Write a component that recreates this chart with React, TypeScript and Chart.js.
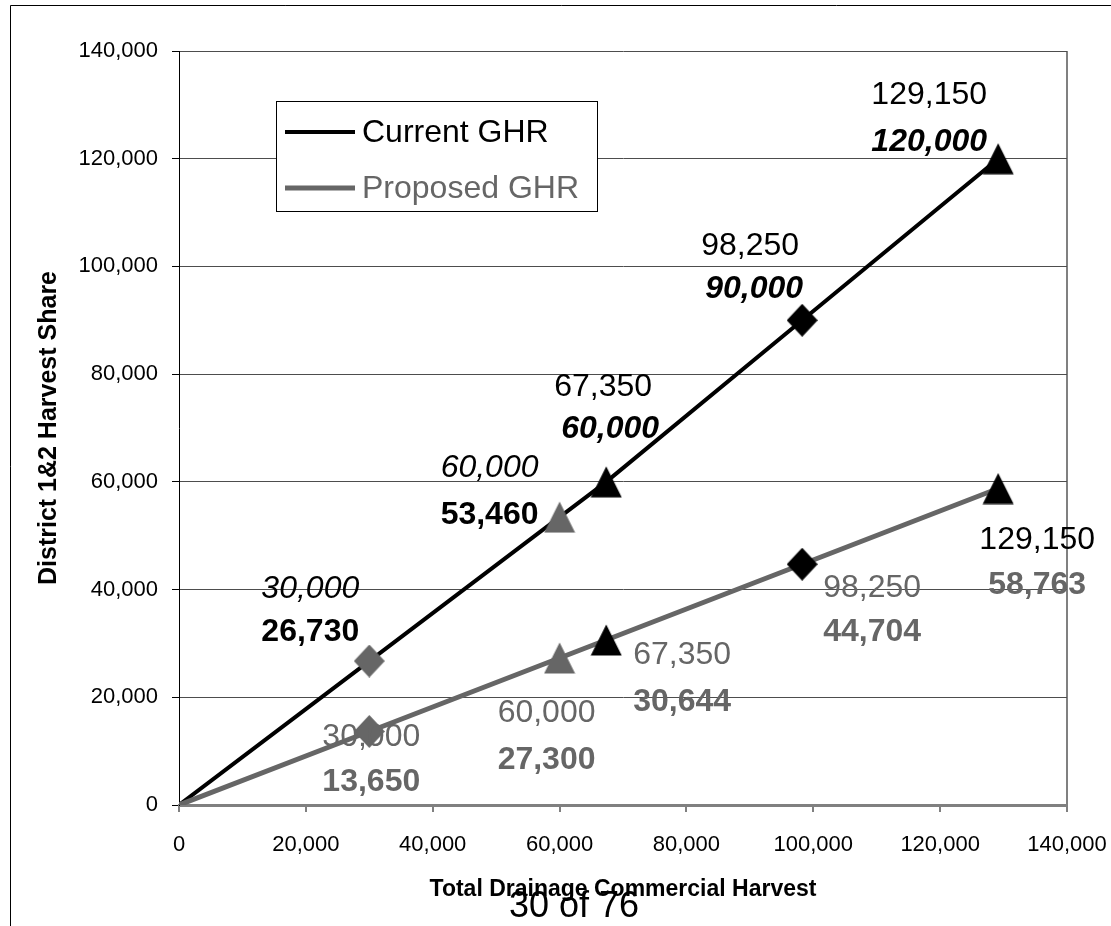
import React, { useEffect, useRef } from 'react';
import { Chart, registerables } from 'chart.js';

Chart.register(...registerables);

// ---------- data ----------
const harvestX = [0, 30000, 60000, 67350, 98250, 129150];
const currentGHR = [0, 26730, 53460, 60000, 90000, 120000];
const proposedGHR = [0, 13650, 27300, 30644, 44704, 58763];
const seriesNames = ['Current GHR', 'Proposed GHR'];
const markerKinds = ['none', 'diamond', 'triangle', 'triangle', 'diamond', 'triangle'];
const markerTones = ['none', 'gray', 'gray', 'black', 'black', 'black'];
const axisMin = 0;
const axisMax = 140000;
const axisStep = 20000;
const xTitle = 'Total Drainage Commercial Harvest';
const yTitle = 'District 1&2 Harvest Share';
const pageNote = '30 of 76';

// ---------- styles ----------
const BLACK = '#000000';
const GRAY = '#666666';
const FAMILY = "'Liberation Sans', Arial, sans-serif";

type LabelStyle = { font: string; color: string; dx: number; dy: number };
const LBL = 32;
const f = (style: string) => `${style} ${LBL}px ${FAMILY}`;

// per series, per point: [top label (x value), bottom label (y value)]
const labelStyles: (LabelStyle[] | null)[][] = [
  [
    null,
    [
      { font: f('italic'), color: BLACK, dx: -59, dy: -72 },
      { font: f('bold'), color: BLACK, dx: -59, dy: -29 },
    ],
    [
      { font: f('italic'), color: BLACK, dx: -70, dy: -49 },
      { font: f('bold'), color: BLACK, dx: -70, dy: -2 },
    ],
    [
      { font: f('normal'), color: BLACK, dx: -3, dy: -95 },
      { font: f('italic bold'), color: BLACK, dx: 4, dy: -53 },
    ],
    [
      { font: f('normal'), color: BLACK, dx: -52, dy: -74 },
      { font: f('italic bold'), color: BLACK, dx: -48, dy: -31 },
    ],
    [
      { font: f('normal'), color: BLACK, dx: -69, dy: -64 },
      { font: f('italic bold'), color: BLACK, dx: -69, dy: -17 },
    ],
  ],
  [
    null,
    [
      { font: f('normal'), color: GRAY, dx: 2, dy: 6 },
      { font: f('bold'), color: GRAY, dx: 2, dy: 51 },
    ],
    [
      { font: f('normal'), color: GRAY, dx: -13, dy: 55 },
      { font: f('bold'), color: GRAY, dx: -13, dy: 102 },
    ],
    [
      { font: f('normal'), color: GRAY, dx: 76, dy: 15 },
      { font: f('bold'), color: GRAY, dx: 76, dy: 62 },
    ],
    [
      { font: f('normal'), color: GRAY, dx: 70, dy: 24 },
      { font: f('bold'), color: GRAY, dx: 70, dy: 68 },
    ],
    [
      { font: f('normal'), color: BLACK, dx: 39, dy: 52 },
      { font: f('bold'), color: GRAY, dx: 39, dy: 97 },
    ],
  ],
];

const fmt = (n: number) => Math.round(n).toLocaleString('en-US');

function makeMarker(kind: string, color: string): HTMLCanvasElement {
  const c = document.createElement('canvas');
  const ctx = c.getContext('2d')!;
  if (kind === 'triangle') {
    c.width = 32;
    c.height = 32;
    ctx.fillStyle = color;
    ctx.beginPath();
    ctx.moveTo(16, 0.5);
    ctx.lineTo(31.5, 31.5);
    ctx.lineTo(0.5, 31.5);
    ctx.closePath();
    ctx.fill();
  } else {
    c.width = 31;
    c.height = 33;
    ctx.fillStyle = color;
    ctx.beginPath();
    ctx.moveTo(15.5, 0);
    ctx.lineTo(31, 16.5);
    ctx.lineTo(15.5, 33);
    ctx.lineTo(0, 16.5);
    ctx.closePath();
    ctx.fill();
  }
  return c;
}

const pointLabelsPlugin = {
  id: 'pointLabels',
  afterDatasetsDraw(chart: any) {
    const ctx = chart.ctx;
    ctx.save();
    ctx.textAlign = 'center';
    ctx.textBaseline = 'middle';
    chart.data.datasets.forEach((ds: any, di: number) => {
      const meta = chart.getDatasetMeta(di);
      meta.data.forEach((pt: any, pi: number) => {
        const st = labelStyles[di][pi];
        if (!st) return;
        const raw = ds.data[pi];
        const texts = [fmt(raw.x), fmt(raw.y)];
        st.forEach((s, k) => {
          ctx.font = s.font;
          ctx.fillStyle = s.color;
          ctx.fillText(texts[k], pt.x + s.dx, pt.y + s.dy);
        });
      });
    });
    ctx.restore();
  },
};

const decorPlugin = {
  id: 'decor',
  afterDraw(chart: any) {
    const ctx = chart.ctx;
    const ca = chart.chartArea;
    ctx.save();
    // outer frame (top and left edges visible)
    ctx.strokeStyle = '#000';
    ctx.lineWidth = 1;
    ctx.beginPath();
    ctx.moveTo(chart.width + 5, 5.5);
    ctx.lineTo(10.5, 5.5);
    ctx.lineTo(10.5, chart.height + 5);
    ctx.stroke();

    // legend box
    const lx = ca.left + 97;
    const ly = ca.top + 50;
    const lw = 321;
    const lh = 110;
    ctx.fillStyle = '#fff';
    ctx.fillRect(lx, ly, lw, lh);
    ctx.strokeStyle = '#000';
    ctx.lineWidth = 1;
    ctx.strokeRect(lx + 0.5, ly + 0.5, lw, lh);
    chart.data.datasets.forEach((ds: any, i: number) => {
      const y = ly + 31 + i * 56;
      ctx.strokeStyle = ds.borderColor;
      ctx.lineWidth = ds.borderWidth;
      ctx.beginPath();
      ctx.moveTo(lx + 9, y);
      ctx.lineTo(lx + 79, y);
      ctx.stroke();
      ctx.fillStyle = ds.borderColor;
      ctx.font = `32px ${FAMILY}`;
      ctx.textAlign = 'left';
      ctx.textBaseline = 'middle';
      ctx.fillText(ds.label, lx + 86, y + 1);
    });

    // page note
    ctx.fillStyle = '#000';
    ctx.font = `36px ${FAMILY}`;
    ctx.textAlign = 'center';
    ctx.textBaseline = 'middle';
    ctx.fillText(pageNote, 574, 907);
    ctx.restore();
  },
};

export default function App() {
  const ref = useRef<HTMLCanvasElement | null>(null);

  useEffect(() => {
    if (!ref.current) return;
    const markers = markerKinds.map((k, i) =>
      k === 'none' ? 'circle' : makeMarker(k, markerTones[i] === 'gray' ? GRAY : BLACK)
    );
    const radii = markerKinds.map((k) => (k === 'none' ? 0 : 15));
    const tickFont = { family: FAMILY, size: 22 };

    const chart = new Chart(ref.current, {
      type: 'scatter',
      data: {
        datasets: [
          {
            label: seriesNames[0],
            data: harvestX.map((x, i) => ({ x, y: currentGHR[i] })),
            showLine: true,
            borderColor: BLACK,
            backgroundColor: BLACK,
            borderWidth: 4,
            pointStyle: markers as any,
            pointRadius: radii,
            pointHoverRadius: radii,
            order: 1,
          },
          {
            label: seriesNames[1],
            data: harvestX.map((x, i) => ({ x, y: proposedGHR[i] })),
            showLine: true,
            borderColor: GRAY,
            backgroundColor: GRAY,
            borderWidth: 5,
            pointStyle: markers as any,
            pointRadius: radii,
            pointHoverRadius: radii,
            order: 0,
          },
        ],
      },
      options: {
        responsive: false,
        animation: false,
        devicePixelRatio: 1,
        layout: { padding: { left: 0, top: 51, right: 44, bottom: 0 } },
        plugins: {
          legend: { display: false },
          tooltip: { enabled: false },
        },
        scales: {
          x: {
            type: 'linear',
            min: axisMin,
            max: axisMax,
            afterFit: (s: any) => {
              s.height = 121;
              s.paddingLeft = 0;
              s.paddingRight = 0;
            },
            ticks: {
              stepSize: axisStep,
              callback: (v: any) => fmt(Number(v)),
              font: tickFont,
              color: '#000',
              padding: 20,
              maxRotation: 0,
              autoSkip: false,
            },
            grid: {
              color: (c: any) => (c.tick && c.tick.value === axisMax ? '#808080' : 'rgba(0,0,0,0)'),
              lineWidth: 2,
              tickLength: 7,
              tickColor: '#000',
              tickWidth: 1,
            },
            border: { color: '#808080', width: 3 },
            title: {
              display: true,
              text: xTitle,
              font: { family: FAMILY, size: 23, weight: 'bold' },
              color: '#000',
              padding: { top: 0, bottom: 23 },
            },
          },
          y: {
            type: 'linear',
            min: axisMin,
            max: axisMax,
            afterFit: (s: any) => {
              s.width = 179;
              s.paddingTop = 0;
              s.paddingBottom = 0;
            },
            ticks: {
              stepSize: axisStep,
              callback: (v: any) => fmt(Number(v)),
              font: tickFont,
              color: '#000',
              padding: 14,
            },
            grid: {
              color: '#4d4d4d',
              lineWidth: 1,
              tickLength: 7,
              tickColor: '#000',
            },
            border: { color: '#000', width: 1 },
            title: {
              display: true,
              text: yTitle,
              font: { family: FAMILY, size: 25, weight: 'bold' },
              color: '#000',
              padding: { top: 34, bottom: 0 },
            },
          },
        },
      },
      plugins: [pointLabelsPlugin, decorPlugin],
    } as any);

    return () => chart.destroy();
  }, []);

  return (
    <div style={{ position: 'fixed', left: 0, top: 0, width: 1111, height: 926, background: '#fff' }}>
      <canvas ref={ref} width={1111} height={926} style={{ display: 'block' }} />
    </div>
  );
}
